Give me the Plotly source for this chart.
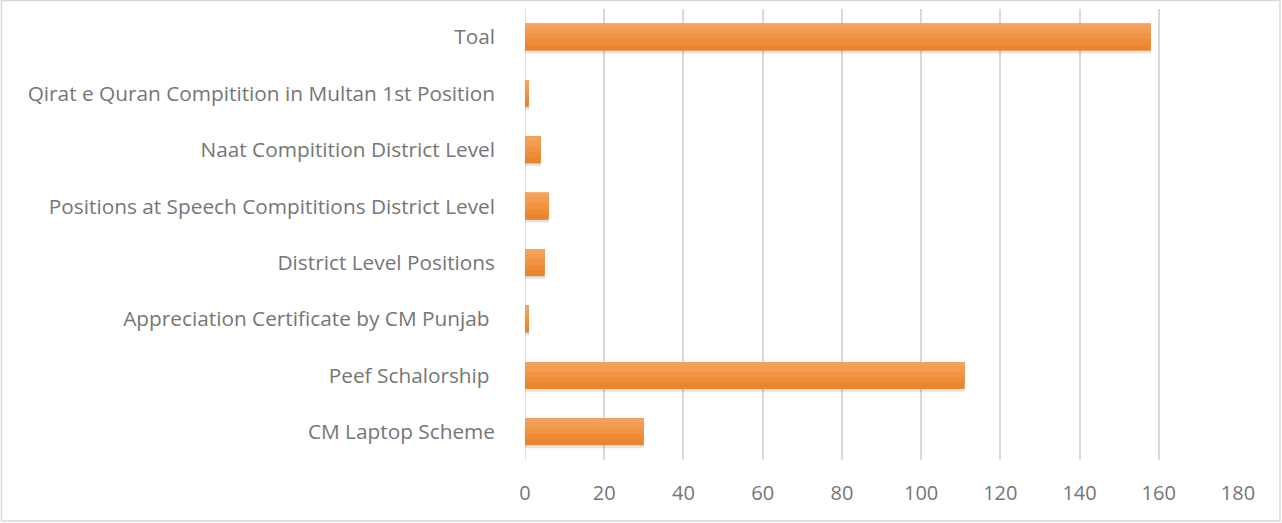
import plotly.graph_objects as go

categories = [
    "CM Laptop Scheme",
    "Peef Schalorship ",
    "Appreciation Certificate by CM Punjab ",
    "District Level Positions",
    "Positions at Speech Compititions District Level",
    "Naat Compitition District Level",
    "Qirat e Quran Compitition in Multan 1st Position",
    "Toal",
]
values = [30, 111, 1, 5, 6, 4, 1, 158]
tick_vals = [0, 20, 40, 60, 80, 100, 120, 140, 160, 180]

W, H = 1282, 523
L, R, T, B = 525, 44, 9, 63

fig = go.Figure()
# soft shadow under bars
fig.add_trace(go.Bar(y=categories, x=values, orientation="h", width=0.5, offset=-0.29,
                     marker=dict(color="rgba(0,0,0,0.10)", line=dict(width=0)),
                     hoverinfo="skip", showlegend=False))
# gradient approximation: darker base with lighter overlays toward top
bands = [("#E9842F", 0.48, -0.24), ("#ED8B38", 0.38, -0.14), ("#F09342", 0.28, -0.04),
         ("#F39B4F", 0.18, 0.06), ("#F5A25B", 0.08, 0.16)]
for col, w, off in bands:
    fig.add_trace(go.Bar(y=categories, x=values, orientation="h", width=w, offset=off,
                         marker=dict(color=col, line=dict(width=0)),
                         showlegend=False))

fig.update_layout(
    width=W, height=H,
    margin=dict(l=L, r=R, t=T, b=B),
    barmode="overlay",
    plot_bgcolor="white", paper_bgcolor="white",
    font=dict(family="Open Sans", size=20, color="#767676"),
    xaxis=dict(range=[0, 180], tickvals=tick_vals, showgrid=True, gridcolor="#D9D9D9",
               gridwidth=1.5, zeroline=False, showline=False, ticks="",
               ticklabelstandoff=19, tickfont=dict(size=20, color="#767676")),
    yaxis=dict(categoryorder="array", categoryarray=categories, showgrid=False,
               ticks="", ticklabelstandoff=29, tickfont=dict(size=20.8, color="#767676"),
               showline=False),
    shapes=[dict(type="rect", xref="paper", yref="paper", xsizemode="pixel", ysizemode="pixel",
                 xanchor=0, yanchor=0, x0=-(L - 1.5), x1=W - L - 2, y0=-(B - 2), y1=H - B - 0.5,
                 line=dict(color="#D9D9D9", width=1.5), fillcolor="rgba(0,0,0,0)", layer="above"),
            dict(type="line", xref="x", yref="paper", x0=0, x1=0, y0=0, y1=1,
                 line=dict(color="#D9D9D9", width=1.5), layer="below")],
)
fig.write_html("out.html", config={"displayModeBar": False},
               post_script="document.body.style.margin='0';document.body.style.overflow='hidden';")
